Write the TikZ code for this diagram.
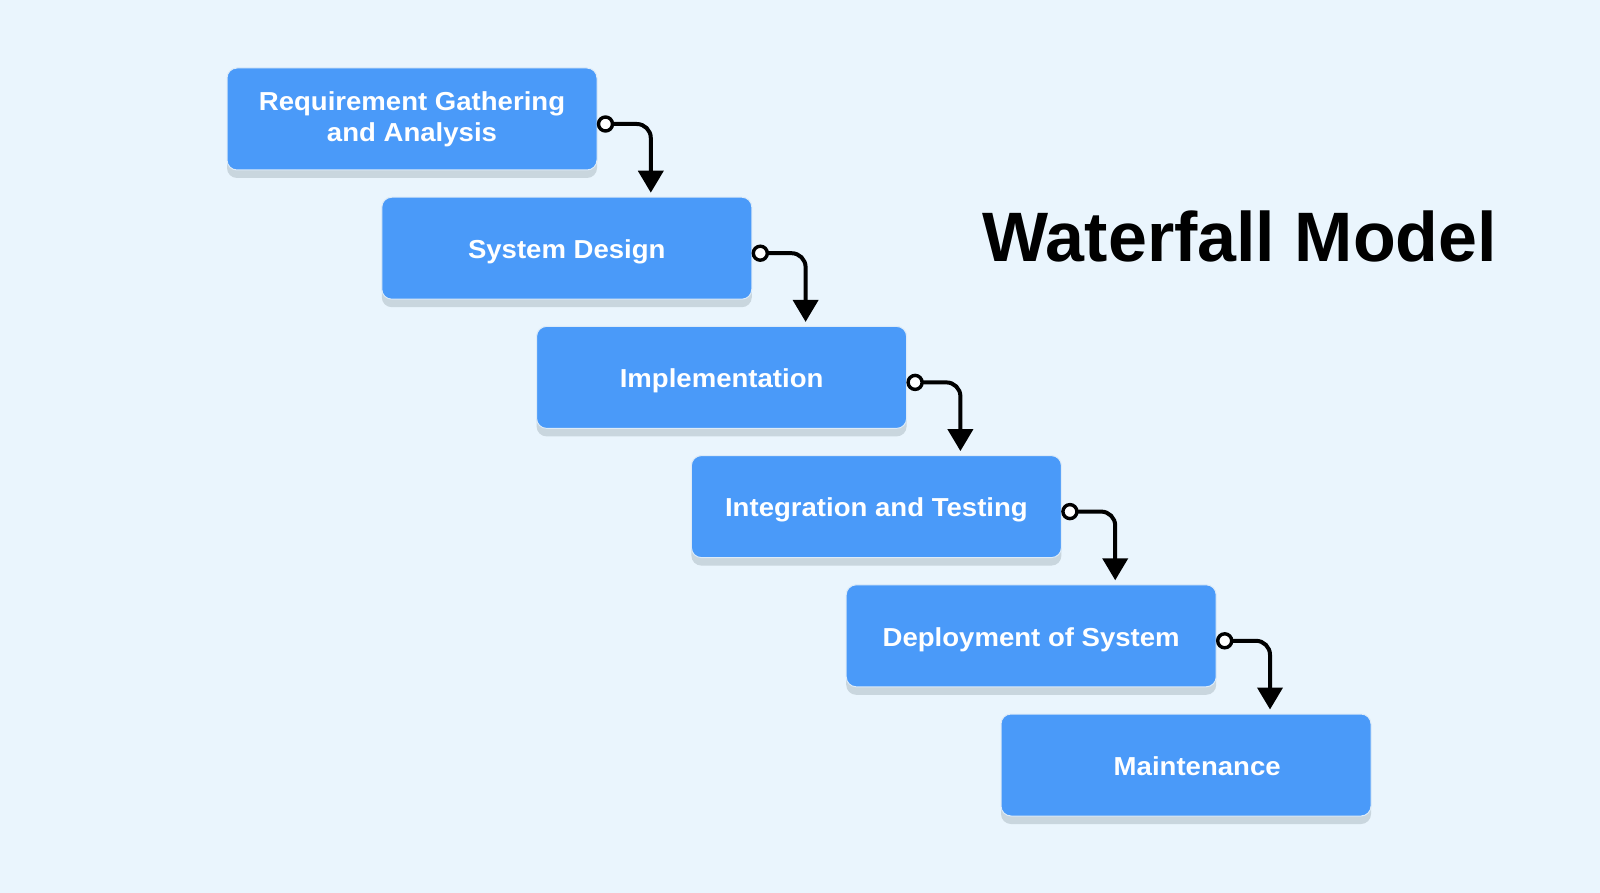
\documentclass[tikz,border=0pt]{standalone}
\usepackage{fontspec}
\setmainfont{Liberation Sans}
\newfontfamily\stagefont[FakeStretch=1.06]{Liberation Sans}
\newcommand\boxtxt[3]{\hspace*{#1}\raisebox{#2}[\height][\depth]{\begin{tabular}{@{}c@{}}#3\end{tabular}}\hspace*{-#1}}
\usetikzlibrary{calc,arrows.meta,shadows}
\definecolor{bg}{HTML}{EAF5FD}
\definecolor{boxblue}{HTML}{4A9AF9}
\definecolor{shd}{HTML}{C9D6DE}
\definecolor{rim}{HTML}{DDEBF8}
\tikzset{
  stagebox/.style={rounded corners=5pt, fill=boxblue, draw=rim, line width=0.5pt,
    minimum width=185pt, minimum height=51pt, inner sep=0pt,
    text=white, font=\stagefont\bfseries\fontsize{13}{15.8}\selectfont,
    drop shadow={shadow xshift=0pt, shadow yshift=-4pt, fill=shd, opacity=1}},
  conn/.style={line width=2pt, rounded corners=7pt, -{Triangle[width=12.5pt,length=11pt]}},
  dot/.style={circle, draw=black, fill=white, line width=1.7pt, minimum size=7pt, inner sep=0pt},
  title/.style={font=\bfseries\fontsize{35}{40}\selectfont, text=black, anchor=base west, inner sep=0pt}
}
\begin{document}
\begin{tikzpicture}[x=0.5pt,y=-0.5pt]
\fill[bg] (0,0) rectangle (1600,893);
\useasboundingbox (0,0) rectangle (1600,893);
\node[stagebox] (b1) at (412,119) {\boxtxt{0pt}{-0.4pt}{Requirement Gathering\\and Analysis}};
\node[stagebox] (b2) at (566.8,248.2) {\boxtxt{0pt}{-2pt}{System Design}};
\node[stagebox] (b3) at (721.6,377.4) {\boxtxt{0pt}{-2pt}{Implementation}};
\node[stagebox] (b4) at (876.4,506.6) {\boxtxt{0pt}{-2pt}{Integration and Testing}};
\node[stagebox] (b5) at (1031.2,635.8) {\boxtxt{0pt}{-2pt}{Deployment of System}};
\node[stagebox] (b6) at (1186,765) {\boxtxt{5.6pt}{-2pt}{Maintenance}};
\foreach \a/\b in {b1/b2,b2/b3,b3/b4,b4/b5,b5/b6}{
  \coordinate (s\a) at ($(\a.east)+(8,5)$);
  \coordinate (e\a) at ($(\b.north)+(84,-4)$);
  \draw[conn] (s\a) -| (e\a);
  \node[dot] (d\a) at (s\a) {};
}
\node[title] (t) at (982,262) {Waterfall Model};
\end{tikzpicture}
\end{document}
